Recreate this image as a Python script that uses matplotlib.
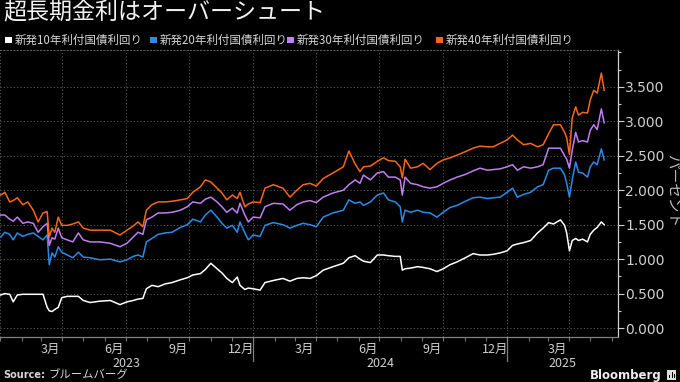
import matplotlib
matplotlib.use('Agg')
import matplotlib.pyplot as plt
import matplotlib.dates as mdates
import matplotlib.ticker as mticker
import matplotlib.transforms as mtransforms
from matplotlib.patches import Rectangle
import pandas as pd

plt.rcParams['font.family'] = ['Noto Sans CJK JP', 'DejaVu Sans']

title = "超長期金利はオーバーシュート"
series_names = ["新発10年利付国債利回り", "新発20年利付国債利回り",
                "新発30年利付国債利回り", "新発40年利付国債利回り"]
series_colors = ["#ffffff", "#2b8be6", "#c07ef2", "#f7671a"]
y_label = "パーセント"
source_text = "ブルームバーグ"

dates = [
    "2023-01-02", "2023-01-08", "2023-01-15", "2023-01-20", "2023-01-26", "2023-02-03", "2023-02-10", "2023-02-18", "2023-02-25", "2023-03-04",
    "2023-03-10", "2023-03-13", "2023-03-17", "2023-03-21", "2023-03-26", "2023-03-31", "2023-04-08", "2023-04-16", "2023-04-24", "2023-05-01",
    "2023-05-11", "2023-05-25", "2023-06-09", "2023-06-23", "2023-07-03", "2023-07-12", "2023-07-19", "2023-07-26", "2023-07-31", "2023-08-08",
    "2023-08-17", "2023-08-27", "2023-09-06", "2023-09-18", "2023-09-28", "2023-10-06", "2023-10-17", "2023-10-24", "2023-11-01", "2023-11-10",
    "2023-11-17", "2023-11-24", "2023-12-02", "2023-12-09", "2023-12-13", "2023-12-20", "2023-12-25", "2024-01-01", "2024-01-11", "2024-01-18",
    "2024-01-30", "2024-02-13", "2024-02-23", "2024-03-04", "2024-03-13", "2024-03-23", "2024-04-01", "2024-04-11", "2024-04-25", "2024-05-10",
    "2024-05-18", "2024-05-27", "2024-06-03", "2024-06-08", "2024-06-18", "2024-06-28", "2024-07-07", "2024-07-14", "2024-07-24", "2024-07-31",
    "2024-08-03", "2024-08-07", "2024-08-15", "2024-08-25", "2024-09-02", "2024-09-12", "2024-09-22", "2024-10-01", "2024-10-11", "2024-10-21",
    "2024-11-02", "2024-11-13", "2024-11-23", "2024-12-04", "2024-12-12", "2024-12-22", "2025-01-01", "2025-01-09", "2025-01-16", "2025-01-25",
    "2025-02-04", "2025-02-14", "2025-02-22", "2025-03-02", "2025-03-09", "2025-03-19", "2025-03-25", "2025-03-28", "2025-04-01", "2025-04-05",
    "2025-04-10", "2025-04-14", "2025-04-20", "2025-04-27", "2025-05-01", "2025-05-06", "2025-05-11", "2025-05-17", "2025-05-21",
]

yield_10y = [
    0.48, 0.50, 0.49, 0.38, 0.48, 0.49, 0.49, 0.49, 0.49, 0.49,
    0.30, 0.25, 0.24, 0.27, 0.30, 0.44, 0.46, 0.46, 0.46, 0.40,
    0.37, 0.39, 0.40, 0.34, 0.38, 0.40, 0.42, 0.43, 0.57, 0.62,
    0.60, 0.64, 0.66, 0.70, 0.73, 0.77, 0.79, 0.85, 0.94, 0.86,
    0.80, 0.72, 0.66, 0.74, 0.62, 0.56, 0.58, 0.57, 0.55, 0.66,
    0.69, 0.72, 0.68, 0.72, 0.73, 0.72, 0.76, 0.84, 0.89, 0.94,
    1.02, 1.05, 1.00, 0.97, 0.95, 1.06, 1.06, 1.05, 1.04, 1.04,
    0.84, 0.86, 0.87, 0.89, 0.88, 0.86, 0.82, 0.86, 0.92, 0.96,
    1.02, 1.08, 1.06, 1.06, 1.07, 1.09, 1.12, 1.20, 1.22, 1.24,
    1.27, 1.38, 1.45, 1.53, 1.51, 1.57, 1.49, 1.38, 1.12, 1.27,
    1.30, 1.27, 1.29, 1.25, 1.36, 1.42, 1.46, 1.54, 1.50,
]

yield_20y = [
    1.32, 1.39, 1.36, 1.28, 1.38, 1.33, 1.36, 1.38, 1.33, 1.28,
    1.35, 0.92, 1.09, 1.03, 1.18, 1.10, 1.06, 1.02, 1.10, 1.03,
    1.02, 0.99, 1.00, 0.96, 0.99, 1.04, 1.06, 1.03, 1.25, 1.30,
    1.36, 1.38, 1.39, 1.46, 1.50, 1.58, 1.54, 1.64, 1.71, 1.61,
    1.52, 1.45, 1.49, 1.39, 1.54, 1.38, 1.28, 1.35, 1.33, 1.49,
    1.53, 1.50, 1.45, 1.49, 1.52, 1.50, 1.47, 1.61, 1.67, 1.71,
    1.86, 1.81, 1.83, 1.78, 1.83, 1.93, 1.96, 1.86, 1.83, 1.76,
    1.54, 1.71, 1.68, 1.71, 1.68, 1.67, 1.61, 1.68, 1.75, 1.78,
    1.84, 1.89, 1.90, 1.88, 1.89, 1.90, 1.97, 2.03, 1.90, 1.94,
    1.97, 2.05, 2.08, 2.29, 2.32, 2.32, 2.22, 2.10, 1.90, 2.15,
    2.41, 2.26, 2.25, 2.19, 2.34, 2.41, 2.37, 2.60, 2.44,
]

yield_30y = [
    1.64, 1.64, 1.58, 1.55, 1.61, 1.52, 1.54, 1.52, 1.39, 1.47,
    1.52, 1.20, 1.31, 1.29, 1.45, 1.31, 1.28, 1.25, 1.38, 1.28,
    1.25, 1.25, 1.23, 1.18, 1.23, 1.32, 1.39, 1.36, 1.57, 1.61,
    1.67, 1.67, 1.68, 1.71, 1.76, 1.83, 1.81, 1.87, 1.90, 1.83,
    1.76, 1.68, 1.74, 1.67, 1.81, 1.64, 1.54, 1.61, 1.60, 1.76,
    1.81, 1.80, 1.71, 1.79, 1.83, 1.85, 1.82, 1.90, 1.96, 2.00,
    2.08, 2.15, 2.10, 2.22, 2.15, 2.25, 2.27, 2.19, 2.19, 2.15,
    1.93, 2.19, 2.10, 2.08, 2.05, 2.03, 2.05, 2.10, 2.15, 2.19,
    2.23, 2.28, 2.32, 2.29, 2.30, 2.31, 2.34, 2.37, 2.29, 2.34,
    2.32, 2.34, 2.37, 2.61, 2.61, 2.61, 2.50, 2.45, 2.32, 2.58,
    2.84, 2.70, 2.72, 2.70, 2.87, 2.95, 2.88, 3.18, 2.98,
]

yield_40y = [
    1.93, 1.97, 1.83, 1.85, 1.89, 1.79, 1.83, 1.71, 1.54, 1.67,
    1.69, 1.32, 1.45, 1.39, 1.61, 1.49, 1.49, 1.51, 1.54, 1.45,
    1.42, 1.42, 1.42, 1.35, 1.42, 1.48, 1.54, 1.47, 1.71, 1.79,
    1.83, 1.83, 1.84, 1.86, 1.88, 1.97, 2.05, 2.15, 2.12, 2.03,
    1.96, 1.86, 1.93, 1.88, 1.97, 1.76, 1.80, 1.83, 1.82, 2.03,
    2.08, 2.03, 1.90, 2.00, 2.08, 2.10, 2.06, 2.17, 2.25, 2.34,
    2.57, 2.38, 2.27, 2.34, 2.35, 2.42, 2.47, 2.43, 2.42, 2.34,
    2.18, 2.45, 2.32, 2.34, 2.39, 2.30, 2.39, 2.44, 2.47, 2.51,
    2.56, 2.61, 2.64, 2.63, 2.63, 2.68, 2.73, 2.80, 2.73, 2.66,
    2.68, 2.63, 2.66, 2.82, 2.95, 2.95, 2.84, 2.76, 2.52, 3.05,
    3.21, 3.09, 3.13, 3.12, 3.31, 3.45, 3.41, 3.70, 3.45,
]

y_ticks = [0.0, 0.5, 1.0, 1.5, 2.0, 2.5, 3.0, 3.5]
x_start, x_end = "2023-01-01", "2025-06-10"
years = [2023, 2024, 2025]

# ---------------------------------------------------------------
W, H = 680, 382
fig = plt.figure(figsize=(W / 100, H / 100), dpi=100, facecolor="black")
ax = fig.add_axes([0, 1 - 337 / H, 618 / W, (337 - 50) / H], facecolor="black")

d = pd.to_datetime(dates)
for vals, col in zip([yield_10y, yield_20y, yield_30y, yield_40y], series_colors):
    ax.plot(d, vals, color=col, lw=1.1, solid_joinstyle="round", zorder=3)

xmin, xmax = pd.Timestamp(x_start), pd.Timestamp(x_end)
ax.set_xlim(xmin, xmax)
ax.set_ylim(-0.13, 4.035)

# y axis (right)
ax.yaxis.tick_right()
ax.set_yticks(y_ticks)
ax.yaxis.set_major_formatter(mticker.FuncFormatter(lambda v, p: f"{v:.3f}"))
ax.yaxis.set_minor_locator(mticker.MultipleLocator(0.25))
ax.tick_params(axis="y", which="major", colors="#cfcfcf", length=4, width=0.8,
               pad=1, labelsize=10, labelfontfamily="DejaVu Sans")
ax.tick_params(axis="y", which="minor", colors="#cfcfcf", length=2, width=0.8)
ax.grid(axis="y", which="major", linestyle=(0, (1, 2)), color="#5a5a5a", lw=0.8, zorder=1)

# x axis
ax.xaxis.set_major_locator(mdates.MonthLocator(bymonth=[3, 6, 9, 12], bymonthday=15))
ax.xaxis.set_major_formatter(mticker.FuncFormatter(
    lambda v, p: f"{mdates.num2date(v).month}月"))
ax.xaxis.set_minor_locator(mdates.MonthLocator())
ax.tick_params(axis="x", which="major", length=0, pad=4, labelsize=9, colors="#cfcfcf")
ax.tick_params(axis="x", which="minor", length=3, width=0.8, colors="#777777")

# quarter gridlines
for q in pd.date_range(xmin, xmax, freq="QS"):
    ax.axvline(q, linestyle=(0, (1, 2)), color="#5a5a5a", lw=0.8, zorder=1)

# spines
ax.spines["left"].set_visible(False)
ax.spines["top"].set_linestyle((0, (1, 2)))
ax.spines["top"].set_color("#5a5a5a")
ax.spines["top"].set_linewidth(0.8)
ax.spines["bottom"].set_color("#808080")
ax.spines["bottom"].set_linewidth(0.9)
ax.spines["right"].set_color("#cfcfcf")
ax.spines["right"].set_linewidth(0.9)

# year separators and year labels
trans = mtransforms.blended_transform_factory(ax.transData, ax.transAxes)
for yr in years:
    y0 = max(pd.Timestamp(f"{yr}-01-01"), xmin)
    y1 = min(pd.Timestamp(f"{yr + 1}-01-01"), xmax)
    if pd.Timestamp(f"{yr}-01-01") > xmin:
        ax.plot([y0, y0], [0, -0.085], transform=trans, clip_on=False,
                color="#808080", lw=0.9)
    mid = y0 + (y1 - y0) / 2
    ax.text(mid, -0.092, str(yr), transform=trans, ha="center", va="center",
            fontsize=9, color="#cfcfcf")

# y label
fig.text(672 / W, 1 - 191 / H, y_label, rotation=270, ha="center", va="center",
         fontsize=10.5, color="#bdbdbd")

# title
fig.text(3 / W, 1 - 13 / H, title, ha="left", va="center", fontsize=16.6, color="#f2f2f2")

# legend
leg_x = [5, 150, 287, 436]
for lx, name, col in zip(leg_x, series_names, series_colors):
    fig.patches.append(Rectangle((lx / W, 1 - 43 / H), 6.5 / W, 6.5 / H,
                                 transform=fig.transFigure, facecolor=col,
                                 edgecolor="none"))
    fig.text((lx + 10) / W, 1 - 40 / H, name, ha="left", va="center",
             fontsize=8.3, color="#d6d6d6")

# footer
fig.text(3 / W, 1 - 375 / H, "Source:", ha="left", va="center", fontsize=7,
         fontweight="bold", family="DejaVu Sans", color="#d6d6d6")
fig.text(49 / W, 1 - 375 / H, source_text, ha="left", va="center", fontsize=8.2,
         color="#d6d6d6")
fig.text(662 / W, 1 - 375 / H, "Bloomberg", ha="right", va="center", fontsize=8.5,
         fontweight="bold", family="DejaVu Sans", color="#eeeeee")
fig.patches.append(Rectangle((667 / W, 1 - 380 / H), 9 / W, 10 / H,
                             transform=fig.transFigure, facecolor="#dddddd",
                             edgecolor="none"))
for bx, bh in [(669, 3), (671.5, 6), (674, 4)]:
    fig.patches.append(Rectangle((bx / W, 1 - 378 / H), 1.2 / W, bh / H,
                                 transform=fig.transFigure, facecolor="black",
                                 edgecolor="none"))

fig.savefig("out.png", dpi=100, facecolor="black")
